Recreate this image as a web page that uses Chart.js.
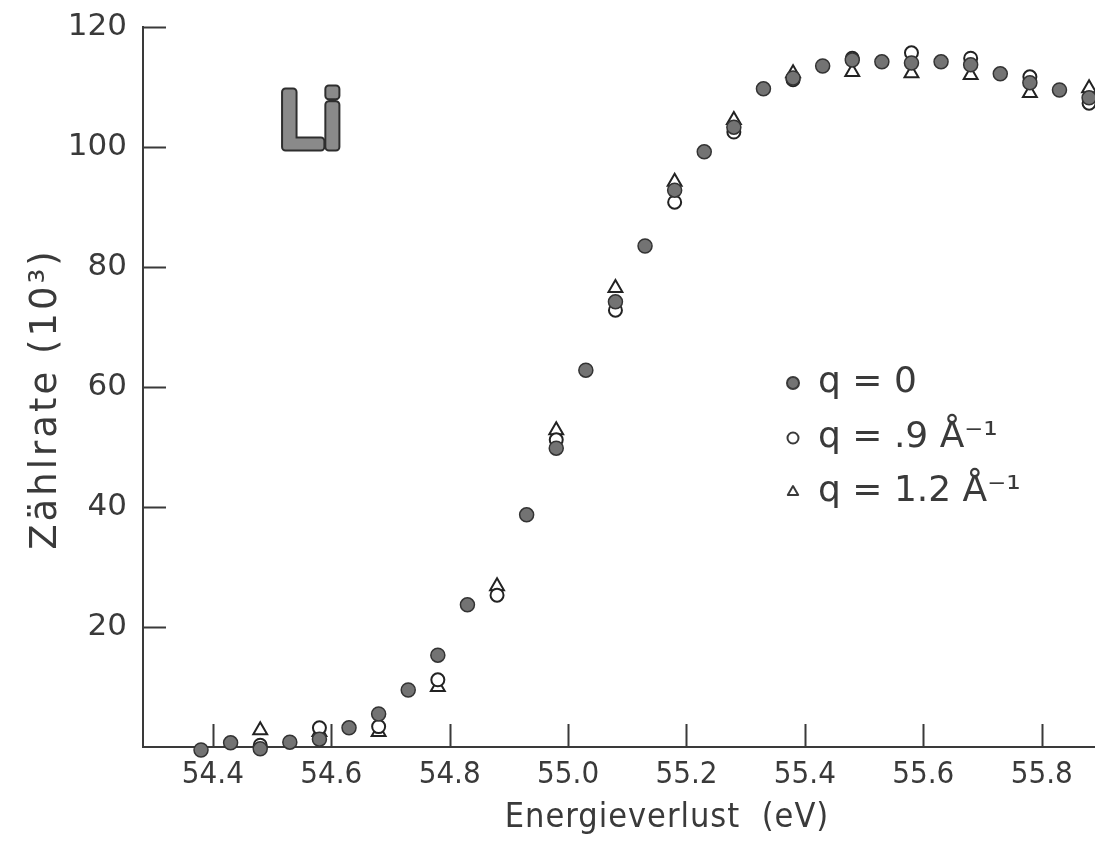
<!DOCTYPE html>
<html>
<head>
<meta charset="utf-8">
<script src="https://cdn.jsdelivr.net/npm/chart.js@4"></script>
<style>
html, body { margin: 0; padding: 0; background: #fff; overflow: hidden; }
canvas { display: block; }
</style>
</head>
<body>
<canvas id="chart" width="1095" height="850"></canvas>
<script>
// energy loss (eV) for the q = 0 series
const energyQ0 = [54.38, 54.43, 54.48, 54.53, 54.58, 54.63, 54.68, 54.73, 54.78, 54.83,
    54.93, 54.98, 55.03, 55.08, 55.13, 55.18, 55.23, 55.28, 55.33, 55.38,
    55.43, 55.48, 55.53, 55.58, 55.63, 55.68, 55.73, 55.78, 55.83, 55.88]
const countsQ0 = [-0.5, 0.7, -0.3, 0.8, 1.3, 3.2, 5.5, 9.5, 15.3, 23.7,
    38.7, 49.8, 62.8, 74.2, 83.5, 92.8, 99.2, 103.3, 109.7, 111.5,
    113.5, 114.5, 114.2, 114.0, 114.2, 113.7, 112.2, 110.7, 109.5, 108.2]

// energy loss for q = .9 and q = 1.2 (every other step)
const energyQ = [54.48, 54.58, 54.68, 54.78, 54.88, 54.98, 55.08, 55.18, 55.28, 55.38,
    55.48, 55.58, 55.68, 55.78, 55.88]
const countsQ09 = [0.3, 3.2, 3.4, 11.2, 25.3, 51.2, 72.8, 90.8, 102.5, 111.2,
    114.8, 115.7, 114.8, 111.7, 107.3]
const countsQ12 = [2.8, 2.5, 2.5, 10.0, 26.8, 52.8, 76.5, 94.2, 104.5, 112.3,
    112.5, 112.3, 112.0, 109.0, 109.8]

const xTicks = [54.4, 54.6, 54.8, 55.0, 55.2, 55.4, 55.6, 55.8]
const yTicks = [20, 40, 60, 80, 100, 120]

const INK = '#3a3a3a'
const GRAY = '#737373'

const toPoints = (xs, ys) => xs.map((x, i) => ({ x: x, y: ys[i] }))

// inside tick marks, titles, legend and the "Li" label
const decorations = {
    id: 'decorations',
    afterDraw(chart) {
        const ctx = chart.ctx
        const xs = chart.scales.x
        const ys = chart.scales.y
        const area = chart.chartArea
        ctx.save()
        ctx.strokeStyle = INK
        ctx.lineWidth = 2
        ctx.beginPath()
        xTicks.forEach(v => {
            const px = Math.round(xs.getPixelForValue(v)) + 0.5
            ctx.moveTo(px, area.bottom)
            ctx.lineTo(px, area.bottom - 23)
        })
        yTicks.forEach(v => {
            const py = Math.round(ys.getPixelForValue(v)) + 0.5
            ctx.moveTo(area.left, py)
            ctx.lineTo(area.left + 23, py)
        })
        ctx.stroke()

        // axis titles
        ctx.fillStyle = INK
        ctx.font = "34px 'DejaVu Sans Condensed'"
        ctx.textAlign = 'center'
        ctx.textBaseline = 'middle'
        ctx.letterSpacing = '1px'
        ctx.fillText('Energieverlust  (eV)', 667, 818)
        ctx.save()
        ctx.translate(46, 399)
        ctx.rotate(-Math.PI / 2)
        ctx.font = "37px 'DejaVu Sans'"
        ctx.letterSpacing = '3px'
        ctx.fillText('Zählrate (10³)', 0, 0)
        ctx.restore()
        ctx.letterSpacing = '0px'

        // Li label
        ctx.font = "80px 'Liberation Sans'"
        ctx.textAlign = 'left'
        ctx.textBaseline = 'alphabetic'
        ctx.lineJoin = 'round'
        ctx.lineWidth = 9
        ctx.strokeStyle = '#2e2e2e'
        ctx.strokeText('Li', 279, 147)
        ctx.lineWidth = 5
        ctx.strokeStyle = '#8a8a8a'
        ctx.strokeText('Li', 279, 147)
        ctx.fillStyle = '#8a8a8a'
        ctx.fillText('Li', 279, 147)

        // legend
        const rows = [
            { style: 'circle', fill: GRAY, r: 6, text: 'q = 0', y: 383 },
            { style: 'circle', fill: '#fff', r: 5.5, text: 'q = .9 Å⁻¹', y: 438 },
            { style: 'triangle', fill: '#fff', r: 6, text: 'q = 1.2 Å⁻¹', y: 492 }
        ]
        ctx.font = "36px 'DejaVu Sans'"
        ctx.textBaseline = 'middle'
        rows.forEach(row => {
            ctx.fillStyle = row.fill
            ctx.strokeStyle = INK
            ctx.lineWidth = 2
            Chart.helpers.drawPoint(ctx, { pointStyle: row.style, radius: row.r, rotation: 0, borderWidth: 2 }, 793, row.y)
            ctx.fillStyle = INK
            ctx.fillText(row.text, 818, row.y)
        })
        ctx.restore()
    }
}

const ctx = document.getElementById('chart').getContext('2d')
new Chart(ctx, {
    type: 'scatter',
    data: {
        datasets: [{
            label: 'q = 0',
            data: toPoints(energyQ0, countsQ0),
            pointStyle: 'circle',
            pointRadius: 7,
            pointBackgroundColor: GRAY,
            pointBorderColor: '#333',
            pointBorderWidth: 1.5
        }, {
            label: 'q = .9',
            data: toPoints(energyQ, countsQ09),
            pointStyle: 'circle',
            pointRadius: 6.5,
            pointBackgroundColor: '#fff',
            pointBorderColor: '#222',
            pointBorderWidth: 2
        }, {
            label: 'q = 1.2',
            data: toPoints(energyQ, countsQ12),
            pointStyle: 'triangle',
            pointRadius: 8,
            pointBackgroundColor: '#fff',
            pointBorderColor: '#222',
            pointBorderWidth: 2
        }]
    },
    options: {
        responsive: false,
        animation: false,
        clip: false,
        layout: { autoPadding: false, padding: { top: 27, right: 0, left: 0, bottom: 0 } },
        plugins: {
            legend: { display: false },
            tooltip: { enabled: false }
        },
        scales: {
            x: {
                type: 'linear',
                min: 54.282,
                max: 55.89,
                grid: { display: false, drawTicks: false },
                border: { display: true, color: INK, width: 2 },
                afterBuildTicks: scale => { scale.ticks = xTicks.map(v => ({ value: v })) },
                afterFit: scale => {
                    scale.height = 103
                    scale.paddingLeft = 0
                    scale.paddingRight = 0
                },
                ticks: {
                    color: INK,
                    padding: 9,
                    maxRotation: 0,
                    font: { family: "'DejaVu Sans Condensed'", size: 31 },
                    callback: v => v.toFixed(1)
                }
            },
            y: {
                min: 0,
                max: 120,
                grid: { display: false, drawTicks: false },
                border: { display: true, color: INK, width: 2 },
                afterBuildTicks: scale => { scale.ticks = yTicks.map(v => ({ value: v })) },
                afterFit: scale => {
                    scale.width = 143
                    scale.paddingTop = 0
                    scale.paddingBottom = 0
                },
                ticks: {
                    color: INK,
                    padding: 16,
                    font: { family: "'DejaVu Sans'", size: 31 }
                }
            }
        }
    },
    plugins: [decorations]
})
</script>
</body>
</html>
